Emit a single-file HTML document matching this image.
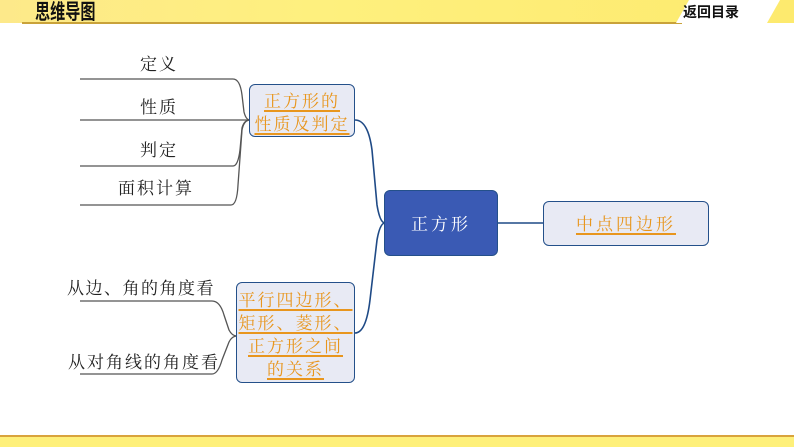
<!DOCTYPE html>
<html><head><meta charset="utf-8"><style>
body{margin:0;width:794px;height:447px;overflow:hidden;background:#fff;position:relative;font-family:"Noto Serif CJK SC","Liberation Serif",serif}
.t{position:absolute;font-size:17px;color:#222;white-space:nowrap;line-height:20px}
.o{color:#e8961e;text-decoration:underline;text-underline-offset:3px;text-decoration-thickness:1.5px}
.box{position:absolute;background:#e8eaf4;border:1.5px solid #24508a;border-radius:6px;box-sizing:border-box;text-align:center;font-size:17px;letter-spacing:3px;white-space:nowrap}
</style></head><body>
<div style="position:absolute;left:0;top:0;width:794px;height:23px;background:linear-gradient(90deg,#fde98a,#fef07e 40%,#fdea6e)"></div>
<div style="position:absolute;left:22px;top:22px;width:660px;height:2px;background:#c9a23a"></div>
<div style="position:absolute;left:35px;top:0px;font:bold 21px 'Noto Sans CJK SC',sans-serif;color:#111;line-height:23px;transform:scaleX(0.72);transform-origin:left">思维导图</div>
<svg style="position:absolute;left:0;top:0" width="794" height="447">
<polygon points="676,23 689,0 780,0 767,23" fill="#fff"/>
<rect x="0" y="437" width="794" height="10" fill="#fef07a"/>
<rect x="0" y="435" width="794" height="2" fill="#d9a33c"/>
<g fill="none" stroke="#555" stroke-width="1.3">
<path d="M80,79 H233 Q240,79 242,95 L244,112 Q246,120 250,120"/>
<path d="M80,120 H250"/>
<path d="M80,166 H233 Q238,166 240,150 L242,128 Q244,120 250,120"/>
<path d="M80,205 H231 Q237,205 238,185 L242,130 Q244,120 250,120"/>
<path d="M80,301 H212 Q220,301 224,315 L229,330 Q232,336 237,336"/>
<path d="M80,374 H212 Q218,374 222,360 L229,342 Q232,336 237,336"/>
</g>
<g fill="none" stroke="#1f4a86" stroke-width="1.6">
<path d="M355,120 Q368,120 372,150 L377,205 Q380,223 385,223"/>
<path d="M355,333 Q366,333 370,300 L377,240 Q380,223 385,223"/>
<path d="M498,223 H543"/>
</g>
</svg>
<div style="position:absolute;left:683px;top:2px;font:bold 14px 'Noto Sans CJK SC',sans-serif;color:#111;line-height:20px">返回目录</div>
<div class="t" style="left:140px;top:53px;letter-spacing:2px">定义</div>
<div class="t" style="left:140px;top:96px;letter-spacing:2px">性质</div>
<div class="t" style="left:140px;top:139px;letter-spacing:2px">判定</div>
<div class="t" style="left:118px;top:177px;letter-spacing:2px">面积计算</div>
<div class="t" style="left:67px;top:277px;letter-spacing:1.5px">从边、角的角度看</div>
<div class="t" style="left:68px;top:351px;letter-spacing:2px">从对角线的角度看</div>
<div class="box" style="left:249px;top:84px;width:106px;height:53px;line-height:23px;padding-top:3px;letter-spacing:2px"><span class="o">正方形的</span><br><span class="o">性质及判定</span></div>
<div style="position:absolute;left:384px;top:190px;width:114px;height:66px;background:#3a5ab4;border:1.5px solid #24508a;border-radius:6px;box-sizing:border-box;color:#fff;font-size:17px;letter-spacing:3px;text-align:center;line-height:63px">正方形</div>
<div class="box" style="left:543px;top:201px;width:166px;height:45px;line-height:42px"><span class="o">中点四边形</span></div>
<div class="box" style="left:236px;top:282px;width:119px;height:101px;line-height:23px;padding-top:4px;letter-spacing:2px;font-size:17px"><span class="o">平行四边形、</span><br><span class="o">矩形、菱形、</span><br><span class="o">正方形之间</span><br><span class="o">的关系</span></div>
</body></html>
